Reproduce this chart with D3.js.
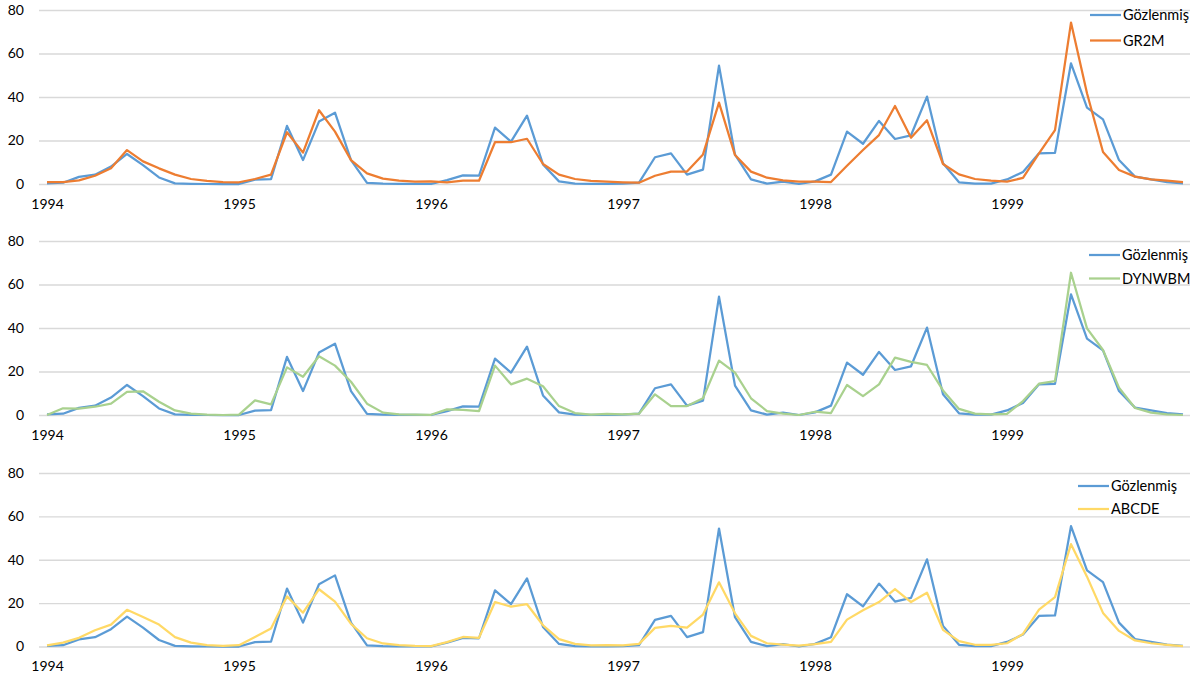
<!DOCTYPE html>
<html>
<head>
<meta charset="utf-8">
<script src="https://cdn.jsdelivr.net/npm/d3@7"></script>
<style>
  html, body { margin: 0; padding: 0; background: #fff; }
  svg text { font-family: Lato, "Open Sans", sans-serif; fill: #000; }
</style>
</head>
<body>
<svg id="chart" width="1193" height="679"></svg>
<script>
// Monthly runoff, Jan 1994 – Dec 1999 (72 months)
const months = d3.range(72);
const yearTicks = [0, 12, 24, 36, 48, 60];
const yearLabels = ["1994", "1995", "1996", "1997", "1998", "1999"];
const yTicks = [0, 20, 40, 60, 80];

const observed = [
  0.3, 0.6, 3.3, 4.3, 8.0, 13.8, 8.7, 3.0, 0.3, 0.1, 0.0, 0.0,
  0.0, 2.0, 2.2, 26.7, 11.0, 28.7, 32.8, 11.0, 0.5, 0.2, 0.1, 0.1,
  0.0, 1.8, 4.0, 3.8, 25.9, 19.5, 31.4, 9.0, 1.2, 0.2, 0.1, 0.1,
  0.2, 0.6, 12.3, 14.1, 4.3, 6.6, 54.4, 13.5, 2.1, 0.2, 1.1, 0.0,
  1.2, 4.3, 24.1, 18.5, 29.0, 20.7, 22.4, 40.2, 9.5, 0.8, 0.2, 0.2,
  2.1, 5.5, 14.1, 14.3, 55.5, 35.1, 29.7, 11.0, 3.4, 2.1, 0.9, 0.3
];
const gr2m = [
  0.9, 0.9, 1.7, 3.8, 7.2, 15.6, 10.4, 7.2, 4.3, 2.3, 1.4, 0.9,
  0.8, 2.3, 4.3, 23.8, 14.4, 33.9, 24.1, 11.0, 4.9, 2.5, 1.5, 1.1,
  1.2, 0.8, 1.5, 1.5, 19.2, 19.2, 20.8, 9.2, 4.3, 2.3, 1.4, 1.1,
  0.8, 0.6, 3.8, 5.7, 5.7, 13.6, 37.4, 13.3, 5.7, 2.9, 1.7, 1.1,
  1.1, 0.9, 8.4, 15.6, 22.5, 35.9, 21.3, 29.3, 9.2, 4.4, 2.3, 1.5,
  1.1, 2.8, 14.1, 24.8, 74.2, 41.7, 14.7, 6.4, 3.4, 2.1, 1.5, 0.9
];
const dynwbm = [
  0.0, 3.1, 2.9, 3.8, 5.2, 10.6, 10.9, 6.1, 2.1, 0.6, 0.2, 0.0,
  0.2, 6.7, 4.9, 21.9, 17.6, 27.0, 22.7, 15.3, 5.2, 1.1, 0.3, 0.2,
  0.1, 2.6, 2.3, 1.8, 22.7, 14.1, 16.7, 13.2, 4.1, 0.9, 0.2, 0.5,
  0.3, 0.6, 9.5, 4.1, 4.1, 7.7, 25.0, 19.5, 7.7, 1.8, 0.6, 0.0,
  1.5, 0.9, 13.8, 8.7, 14.1, 26.4, 24.4, 23.0, 11.3, 2.8, 0.6, 0.3,
  0.5, 6.4, 14.4, 15.6, 65.4, 39.8, 29.9, 12.6, 3.2, 1.1, 0.3, 0.0
];
const abcde = [
  0.5, 1.8, 4.0, 7.5, 10.1, 16.9, 13.6, 10.1, 4.3, 1.8, 0.6, 0.3,
  0.6, 4.4, 8.3, 23.1, 15.6, 26.4, 20.7, 10.4, 3.8, 1.4, 0.6, 0.3,
  0.2, 2.0, 4.4, 4.0, 20.5, 18.4, 19.5, 9.8, 3.4, 1.2, 0.5, 0.6,
  0.5, 1.2, 8.6, 9.5, 8.7, 14.7, 29.6, 15.3, 4.9, 1.5, 0.9, 0.4,
  1.1, 2.1, 12.4, 16.7, 20.5, 26.5, 20.5, 24.8, 7.7, 2.5, 0.8, 0.8,
  1.5, 5.8, 17.0, 22.8, 47.2, 32.2, 15.5, 7.2, 2.8, 1.5, 0.8, 0.2
];

const observedName = "Gözlenmiş";
const modelNames = ["GR2M", "DYNWBM", "ABCDE"];
const modelSeries = [gr2m, dynwbm, abcde];
const modelColors = ["#ED7D31", "#A9D18E", "#FFD966"];
const observedColor = "#5B9BD5";

// Panel layout: top (80) and bottom (0) pixel rows, legend placement
const panels = [
  { top: 10, bottom: 184, legX: 1090, legY: [15, 40.5] },
  { top: 241, bottom: 415, legX: 1089, legY: [255, 278.5] },
  { top: 473, bottom: 646.5, legX: 1078, legY: [486, 509] }
];

const svg = d3.select("#chart");
const gridLeft = 39, gridRight = 1190;
const x = d3.scaleLinear().domain([0, 71]).range([47, 1183]);

panels.forEach((p, k) => {
  const y = d3.scaleLinear().domain([0, 80]).range([p.bottom, p.top]);
  const g = svg.append("g");

  // horizontal gridlines + value labels
  const yAxis = d3.axisLeft(y)
    .tickValues(yTicks)
    .tickSize(-(gridRight - gridLeft))
    .tickPadding(15);
  const ya = g.append("g").attr("transform", `translate(${gridLeft},0)`).call(yAxis);
  ya.select(".domain").remove();
  ya.selectAll(".tick line").attr("stroke", "#D9D9D9").attr("stroke-width", 1.3);
  ya.selectAll(".tick text").attr("font-size", 14).attr("font-family", "Lato, sans-serif").attr("fill", "#000");

  // year labels under each January
  const xAxis = d3.axisBottom(x)
    .tickValues(yearTicks)
    .tickFormat((d, i) => yearLabels[i])
    .tickSize(0)
    .tickPadding(15);
  const xa = g.append("g").attr("transform", `translate(0,${p.bottom})`).call(xAxis);
  xa.select(".domain").remove();
  xa.selectAll(".tick text").attr("font-size", 14).attr("font-family", "Lato, sans-serif").attr("fill", "#000");

  const drawSeries = (vals, color) => {
    g.append("path")
      .datum(months)
      .attr("fill", "none")
      .attr("stroke", color)
      .attr("stroke-width", 2.25)
      .attr("stroke-linejoin", "round")
      .attr("d", d3.line().x(i => x(i)).y(i => y(vals[i])));
  };
  drawSeries(observed, observedColor);
  drawSeries(modelSeries[k], modelColors[k]);

  // legend
  const entries = [[observedName, observedColor], [modelNames[k], modelColors[k]]];
  entries.forEach(([name, color], j) => {
    const ly = p.legY[j];
    g.append("line")
      .attr("x1", p.legX).attr("x2", p.legX + 31)
      .attr("y1", ly).attr("y2", ly)
      .attr("stroke", color).attr("stroke-width", 2.25);
    g.append("text")
      .attr("x", p.legX + 33).attr("y", ly)
      .attr("dy", "0.35em")
      .attr("font-size", 14.5)
      .text(name);
  });
});
</script>
</body>
</html>
